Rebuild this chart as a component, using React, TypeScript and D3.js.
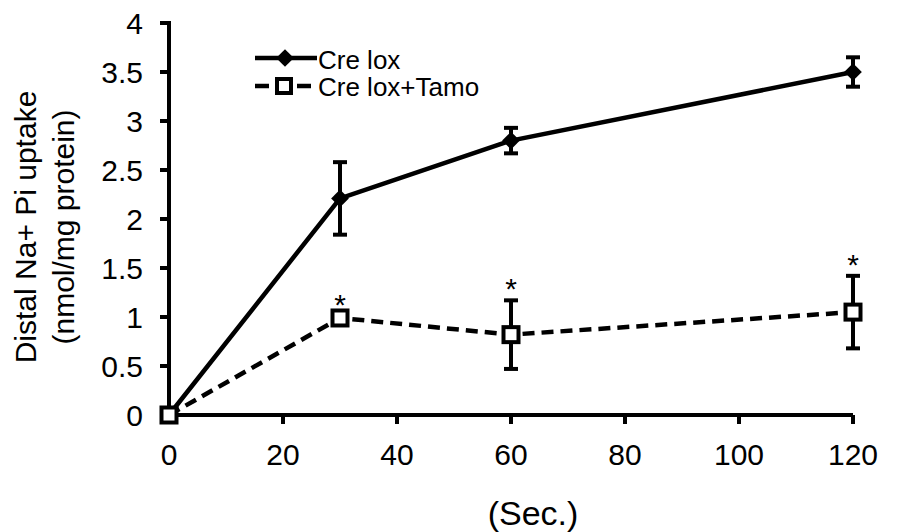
import React from "react";
import * as d3 from "d3";

// seconds
const times = [0, 30, 60, 120];
const creLox = [0, 2.21, 2.8, 3.5];
const creLoxErr = [0, 0.37, 0.13, 0.15];
const creLoxTamo = [0, 0.99, 0.82, 1.05];
const creLoxTamoErr = [0, 0.02, 0.35, 0.37];
const starIdx = [1, 2, 3];
const xTicks = [0, 20, 40, 60, 80, 100, 120];
const yTicks = [0, 0.5, 1, 1.5, 2, 2.5, 3, 3.5, 4];

const W = 898;
const H = 532;
const font = "Liberation Sans, Arial, sans-serif";

export default function App() {
  const x = d3.scaleLinear().domain([0, 120]).range([169, 853]);
  const y = d3.scaleLinear().domain([0, 4]).range([415, 23]);

  const line = d3
    .line<number>()
    .x((_, i) => x(times[i]))
    .y((d) => y(d));

  const diamond = d3.symbol().type(d3.symbolDiamond2).size(200)();

  const errBars = (vals: number[], errs: number[], key: string) =>
    vals.map((v, i) =>
      errs[i] > 0.05 ? (
        <g key={key + i} stroke="#000" strokeWidth={4}>
          <line x1={x(times[i])} x2={x(times[i])} y1={y(v + errs[i])} y2={y(v - errs[i])} />
          <line x1={x(times[i]) - 7} x2={x(times[i]) + 7} y1={y(v + errs[i])} y2={y(v + errs[i])} />
          <line x1={x(times[i]) - 7} x2={x(times[i]) + 7} y1={y(v - errs[i])} y2={y(v - errs[i])} />
        </g>
      ) : null
    );

  return (
    <svg width={W} height={H} style={{ position: "absolute", left: 0, top: 0, background: "#fff" }} fontFamily={font}>
      {/* axes */}
      <g stroke="#000" strokeWidth={4}>
        <line x1={x(0)} x2={x(0)} y1={y(4) - 2} y2={y(0)} />
        <line x1={x(0)} x2={x(120)} y1={y(0)} y2={y(0)} />
        {yTicks.map((t) => (
          <line key={"yt" + t} x1={x(0) - 9} x2={x(0)} y1={y(t)} y2={y(t)} />
        ))}
        {xTicks.map((t) => (
          <line key={"xt" + t} x1={x(t)} x2={x(t)} y1={y(0)} y2={y(0) + 9} />
        ))}
      </g>
      {yTicks.map((t) => (
        <text key={"yl" + t} x={143} y={y(t)} dy="0.36em" textAnchor="end" fontSize={30}>
          {t}
        </text>
      ))}
      {xTicks.map((t) => (
        <text key={"xl" + t} x={x(t)} y={y(0) + 50} textAnchor="middle" fontSize={30}>
          {t}
        </text>
      ))}
      <text x={533} y={525} textAnchor="middle" fontSize={34}>
        (Sec.)
      </text>
      <g transform="translate(0,227) rotate(-90)">
        <text textAnchor="middle" fontSize={30} y={36}>
          Distal Na+ Pi uptake
        </text>
        <text textAnchor="middle" fontSize={30} y={74}>
          (nmol/mg protein)
        </text>
      </g>

      {/* series */}
      <path d={line(creLox) || ""} fill="none" stroke="#000" strokeWidth={4.5} />
      <path d={line(creLoxTamo) || ""} fill="none" stroke="#000" strokeWidth={4.5} strokeDasharray="12,7" />
      {errBars(creLox, creLoxErr, "a")}
      {errBars(creLoxTamo, creLoxTamoErr, "b")}
      {creLox.map((v, i) => (
        <path key={"d" + i} d={diamond || ""} transform={`translate(${x(times[i])},${y(v)})`} fill="#000" />
      ))}
      {creLoxTamo.map((v, i) => (
        <rect key={"s" + i} x={x(times[i]) - 7.5} y={y(v) - 7.5} width={15} height={15} fill="#fff" stroke="#000" strokeWidth={4} />
      ))}
      {starIdx.map((i) => (
        <text key={"st" + i} x={x(times[i])} y={y(creLoxTamo[i] + creLoxTamoErr[i]) - 1} textAnchor="middle" fontSize={30}>
          *
        </text>
      ))}

      {/* legend */}
      <g>
        <line x1={255} x2={317} y1={58} y2={58} stroke="#000" strokeWidth={4.5} />
        <path d={diamond || ""} transform="translate(285,58)" fill="#000" />
        <text x={318} y={60} dy="0.36em" fontSize={26}>
          Cre lox
        </text>
        <line x1={255} x2={313} y1={86} y2={86} stroke="#000" strokeWidth={4.5} strokeDasharray="14,7" />
        <rect x={277} y={79} width={14} height={14} fill="#fff" stroke="#000" strokeWidth={4} />
        <text x={318} y={87} dy="0.36em" fontSize={26}>
          Cre lox+Tamo
        </text>
      </g>
    </svg>
  );
}
